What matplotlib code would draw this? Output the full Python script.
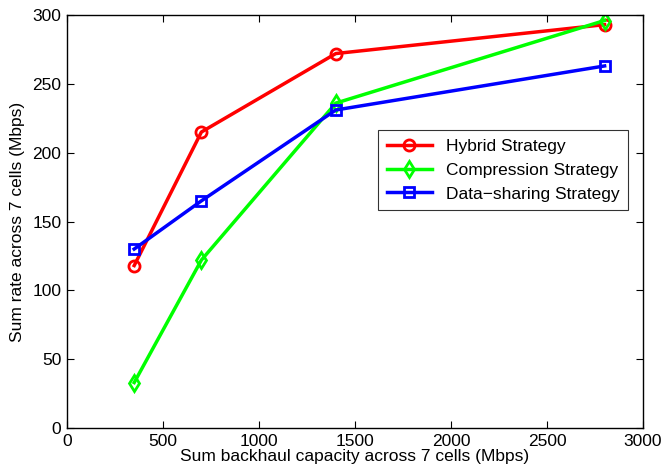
import numpy as np
import matplotlib.pyplot as plt

plt.rcParams['font.family'] = ['Liberation Sans', 'DejaVu Sans']

# backhaul capacity (Mbps)
capacity = [350, 700, 1400, 2800]
hybrid = [118, 215, 272, 293]
compression = [33, 122, 236, 296]
data_sharing = [130, 165, 231, 263]

fig = plt.figure(figsize=(6.65, 4.72), dpi=100)
ax = fig.add_axes([67 / 665, 1 - 428 / 472, (643 - 67) / 665, (428 - 15) / 472])

ax.plot(capacity, hybrid, '-o', color='#ff0000', lw=2.5, ms=8, mew=2,
        mfc='none', label='Hybrid Strategy')
ax.plot(capacity, compression, '-d', color='#00ff00', lw=2.5, ms=8, mew=2,
        mfc='none', label='Compression Strategy')
ax.plot(capacity, data_sharing, '-s', color='#0000ff', lw=2.5, ms=7, mew=2,
        mfc='none', label='Data\u2212sharing Strategy')

ax.set_xlim(0, 3000)
ax.set_ylim(0, 300)
ax.set_xticks(np.arange(0, 3001, 500))
ax.set_yticks(np.arange(0, 301, 50))
ax.tick_params(direction='in', top=True, right=True, labelsize=12.5, length=5, pad=4)
for s in ax.spines.values():
    s.set_linewidth(1.0)

ax.set_xlabel('Sum backhaul capacity across 7 cells (Mbps)', fontsize=12.5, labelpad=0)
ax.set_ylabel('Sum rate across 7 cells (Mbps)', fontsize=12.5, labelpad=5)

leg = ax.legend(loc='upper left', bbox_to_anchor=((378 - 67) / 576, 1 - (130 - 15) / 413),
                fontsize=12.5, frameon=True, fancybox=False, edgecolor='black',
                borderaxespad=0, handlelength=2.6, labelspacing=0.5, borderpad=0.5)
leg.get_frame().set_linewidth(0.8)

fig.savefig('out.png', dpi=100)
